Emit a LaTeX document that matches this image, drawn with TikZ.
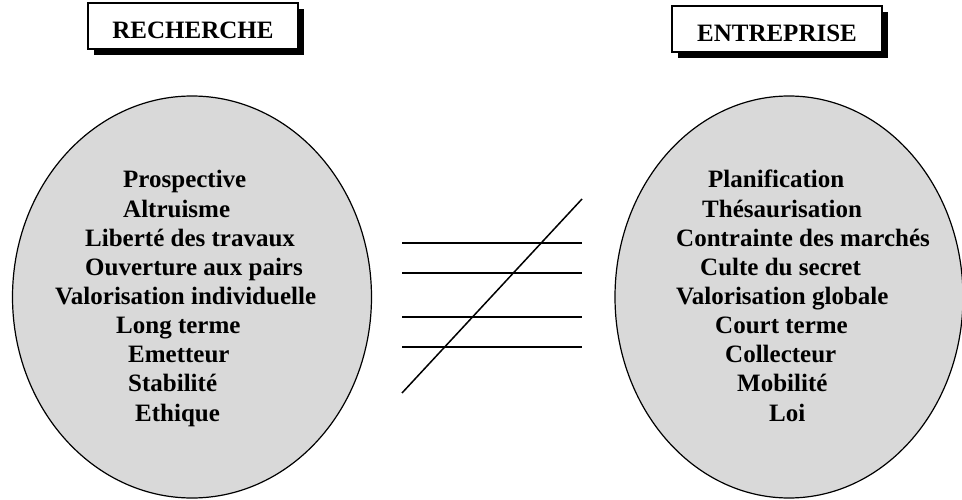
\documentclass[tikz,border=0pt]{standalone}
\usepackage{fontspec}
\setmainfont{Liberation Serif}
\usetikzlibrary{shapes.geometric,shadows}

\tikzset{
  titre/.style={draw, line width=1.2pt, fill=white, minimum width=210pt, minimum height=46pt,
    text height=26pt, text depth=0pt,
    font=\fontsize{25}{29}\selectfont\bfseries,
    drop shadow={shadow xshift=6pt, shadow yshift=-6pt, fill=black, opacity=1}},
  bulle/.style={ellipse, draw, line width=1.2pt, fill=black!15},
  mot/.style={anchor=base west, inner sep=0pt, font=\fontsize{25}{29}\selectfont\bfseries},
  trait/.style={line width=1.5pt}
}

\begin{document}
\begin{tikzpicture}[x=1pt,y=-1pt]
\useasboundingbox (0,0) rectangle (962,500);

% titres
\node[titre] (rech) at (193,26) {RECHERCHE};
\node[titre] (entr) at (777,29) {ENTREPRISE};

% ellipses
\node[bulle, minimum width=359pt, minimum height=402pt] (gauche) at (192,297) {};
\node[bulle, minimum width=348pt, minimum height=402pt] (droite) at (789,297) {};

% mots de gauche
\foreach \x/\t [count=\i] in {123/Prospective, 123/Altruisme, 85/Libert\'e des travaux,
  85/Ouverture aux pairs, 55/Valorisation individuelle, 116/Long terme,
  128/Emetteur, 128/Stabilit\'e, 135/Ethique} {
\node[mot] (r\i) at (\x, 188+29.125*\i-29.125) {\t};
}

% mots de droite
\foreach \x/\t [count=\i] in {708/Planification, 702/Th\'esaurisation, 676/Contrainte des march\'es,
  700/Culte du secret, 676/Valorisation globale, 715/Court terme,
  725/Collecteur, 737/Mobilit\'e, 769/Loi} {
\node[mot] (e\i) at (\x, 188+29.125*\i-29.125) {\t};
}

% signe different
\foreach \y [count=\i] in {243,273,317,347} {
\coordinate (g\i) at (402,\y);
\coordinate (d\i) at (582,\y);
\draw[trait] (g\i) -- (d\i);
}
\coordinate (bas) at (402,393);
\coordinate (haut) at (582,199);
\draw[trait] (bas) -- (haut);

\end{tikzpicture}
\end{document}
